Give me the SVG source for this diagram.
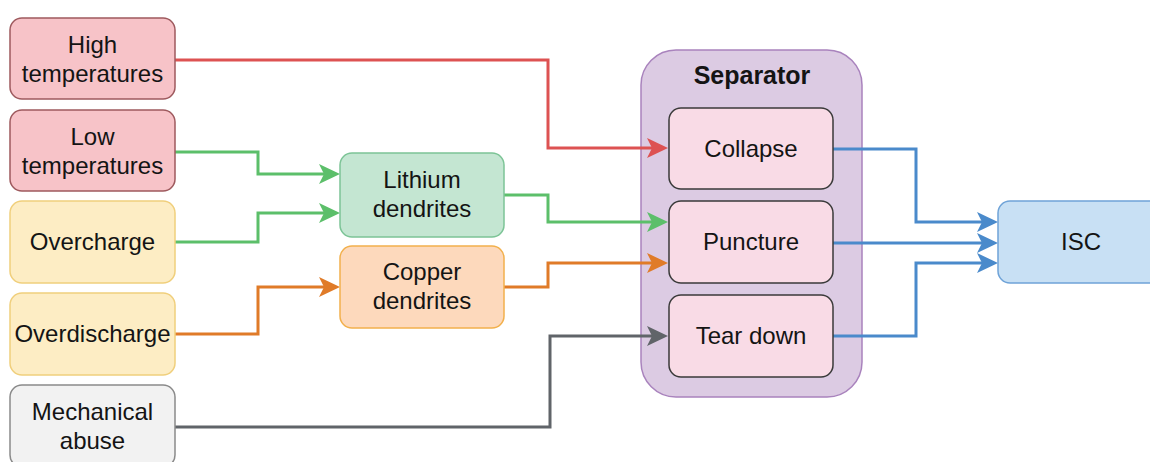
<svg xmlns="http://www.w3.org/2000/svg" width="1150" height="462" viewBox="0 0 1150 462">
<style>
  text { font-family: "Liberation Sans", Arial, sans-serif; font-size: 24px; fill: #141414; text-anchor: middle; }
  .title { font-weight: bold; font-size: 25px; }
  .pink { fill: #f7c3c8; stroke: #9e5a5e; stroke-width: 1.5; }
  .yellow { fill: #fdedc4; stroke: #f0cf7c; stroke-width: 1.5; }
  .grey { fill: #f2f2f2; stroke: #8a8a8a; stroke-width: 1.5; }
  .green { fill: #c4e6d2; stroke: #7cc496; stroke-width: 1.5; }
  .orange { fill: #fdd9bc; stroke: #f2b04c; stroke-width: 1.5; }
  .sep { fill: #dccbe3; stroke: #a983bd; stroke-width: 1.5; }
  .inner { fill: #f9dbe6; stroke: #3a3a3a; stroke-width: 1.5; }
  .blue { fill: #c8e0f4; stroke: #6fa3d8; stroke-width: 1.5; }
  .c { fill: none; stroke-width: 3; stroke-linejoin: miter; }
  .cr { stroke: #dd5252; }
  .cg { stroke: #5cbf6a; }
  .co { stroke: #e07b28; }
  .ck { stroke: #606469; }
  .cb { stroke: #4a8acb; }
</style>
<defs>
  <marker id="ar" markerUnits="userSpaceOnUse" markerWidth="21" markerHeight="20" refX="16" refY="10" orient="auto"><path d="M0,0 L21,10 L0,20 L5,10 Z" fill="#dd5252"/></marker>
  <marker id="ag" markerUnits="userSpaceOnUse" markerWidth="21" markerHeight="20" refX="16" refY="10" orient="auto"><path d="M0,0 L21,10 L0,20 L5,10 Z" fill="#5cbf6a"/></marker>
  <marker id="ao" markerUnits="userSpaceOnUse" markerWidth="21" markerHeight="20" refX="16" refY="10" orient="auto"><path d="M0,0 L21,10 L0,20 L5,10 Z" fill="#e07b28"/></marker>
  <marker id="ak" markerUnits="userSpaceOnUse" markerWidth="21" markerHeight="20" refX="16" refY="10" orient="auto"><path d="M0,0 L21,10 L0,20 L5,10 Z" fill="#606469"/></marker>
  <marker id="ab" markerUnits="userSpaceOnUse" markerWidth="21" markerHeight="20" refX="16" refY="10" orient="auto"><path d="M0,0 L21,10 L0,20 L5,10 Z" fill="#4a8acb"/></marker>
</defs>
<rect width="1150" height="462" fill="#ffffff"/>

<g id="separator">
  <rect class="sep" x="641" y="50" width="221" height="347" rx="35"/>
  <text class="title" x="752" y="84">Separator</text>
</g>

<g id="connectors">
  <path class="c cr" d="M175,60 H548 V148 H663" marker-end="url(#ar)"/>
  <path class="c cg" d="M175,152 H258 V174 H335" marker-end="url(#ag)"/>
  <path class="c cg" d="M175,242 H258 V213 H335" marker-end="url(#ag)"/>
  <path class="c co" d="M175,334 H258 V287 H335" marker-end="url(#ao)"/>
  <path class="c cg" d="M504,195 H548 V222 H663" marker-end="url(#ag)"/>
  <path class="c co" d="M504,287 H548 V263 H663" marker-end="url(#ao)"/>
  <path class="c ck" d="M175,427 H550 V336 H663" marker-end="url(#ak)"/>
  <path class="c cb" d="M833,149 H916 V222 H993" marker-end="url(#ab)"/>
  <path class="c cb" d="M833,243 H993" marker-end="url(#ab)"/>
  <path class="c cb" d="M833,336 H916 V263 H993" marker-end="url(#ab)"/>
</g>

<g id="high-temperatures">
  <rect class="pink" x="10" y="18" width="165" height="81" rx="12"/>
  <text x="92.5" y="53">High</text>
  <text x="92.5" y="82">temperatures</text>
</g>
<g id="low-temperatures">
  <rect class="pink" x="10" y="110" width="165" height="81" rx="12"/>
  <text x="92.5" y="145">Low</text>
  <text x="92.5" y="174">temperatures</text>
</g>
<g id="overcharge">
  <rect class="yellow" x="10" y="201" width="165" height="82" rx="12"/>
  <text x="92.5" y="250">Overcharge</text>
</g>
<g id="overdischarge">
  <rect class="yellow" x="10" y="293" width="165" height="82" rx="12"/>
  <text x="92.5" y="342">Overdischarge</text>
</g>
<g id="mechanical-abuse">
  <rect class="grey" x="10" y="385" width="165" height="82" rx="12"/>
  <text x="92.5" y="420">Mechanical</text>
  <text x="92.5" y="449">abuse</text>
</g>

<g id="lithium-dendrites">
  <rect class="green" x="340" y="153" width="164" height="84" rx="12"/>
  <text x="422" y="188">Lithium</text>
  <text x="422" y="217">dendrites</text>
</g>
<g id="copper-dendrites">
  <rect class="orange" x="340" y="246" width="164" height="82" rx="12"/>
  <text x="422" y="280">Copper</text>
  <text x="422" y="309">dendrites</text>
</g>

<g id="collapse">
  <rect class="inner" x="669" y="108" width="164" height="81" rx="12"/>
  <text x="751" y="157">Collapse</text>
</g>
<g id="puncture">
  <rect class="inner" x="669" y="201" width="164" height="82" rx="12"/>
  <text x="751" y="250">Puncture</text>
</g>
<g id="tear-down">
  <rect class="inner" x="669" y="295" width="164" height="82" rx="12"/>
  <text x="751" y="344">Tear down</text>
</g>

<g id="isc">
  <rect class="blue" x="998" y="201" width="166" height="82" rx="12"/>
  <text x="1081" y="250">ISC</text>
</g>
</svg>
